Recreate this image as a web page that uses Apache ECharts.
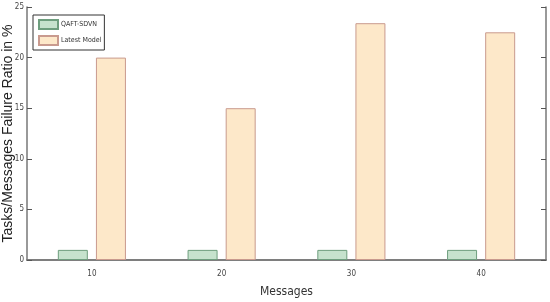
<!DOCTYPE html>
<html><head><meta charset="utf-8">
<script src="https://cdn.jsdelivr.net/npm/echarts@6/dist/echarts.min.js"></script>
<style>html,body{margin:0;padding:0;background:#fff}#c{width:550px;height:302px}</style>
</head><body><div id="c"></div>
<script>
var categories = ['10', '20', '30', '40'];
var qaftValues = [1, 1, 1, 1];
var latestValues = [20, 15, 23.4, 22.5];
var yTicks = [0, 5, 10, 15, 20, 25];
var seriesNames = ['QAFT-SDVN', 'Latest Model'];

var chart = echarts.init(document.getElementById('c'), null, {renderer: 'canvas'});
var axisCol = '#777';
var narrow = "'Liberation Sans Narrow', 'DejaVu Sans Condensed', 'Liberation Sans', sans-serif";
chart.setOption({
  animation: false,
  grid: {left: 27, right: 4, top: 7, bottom: 42, containLabel: false, outerBoundsMode: 'none'},
  legend: {
    left: 33, top: 15, orient: 'vertical', itemWidth: 19, itemHeight: 9, itemGap: 5, icon: 'rect',
    padding: [4, 3, 4, 5], borderColor: '#333', borderWidth: 1, backgroundColor: '#fff',
    textStyle: {fontFamily: narrow, fontSize: 7, color: '#333', padding: [0, 0, 0, -2]},
    data: seriesNames
  },
  xAxis: [{
    type: 'category', data: categories, position: 'bottom',
    name: 'Messages', nameLocation: 'middle', nameGap: 26, nameMoveOverlap: false,
    nameTextStyle: {fontFamily: narrow, fontSize: 12, color: '#333'},
    axisLine: {lineStyle: {color: axisCol, width: 1.5}},
    axisTick: {alignWithLabel: true, inside: true, length: 5, lineStyle: {color: '#555'}},
    axisLabel: {fontFamily: narrow, fontSize: 8, color: '#444', margin: 10}
  }, {
    type: 'category', data: categories, position: 'top',
    axisLine: {lineStyle: {color: axisCol, width: 1.5}},
    axisTick: {alignWithLabel: true, inside: true, length: 5, lineStyle: {color: '#555'}},
    axisLabel: {show: false}
  }],
  yAxis: [{
    type: 'value', min: 0, max: 25, interval: 5,
    name: 'Tasks/Messages Failure Ratio in %', nameLocation: 'middle', nameGap: 12, nameMoveOverlap: false,
    nameTextStyle: {fontFamily: 'Liberation Sans', fontSize: 14, color: '#222'},
    axisLine: {show: true, lineStyle: {color: axisCol, width: 1.5}},
    axisTick: {show: true, inside: true, length: 5, lineStyle: {color: '#555'}},
    axisLabel: {fontFamily: narrow, fontSize: 8, color: '#444', margin: 3,
      formatter: function (v) { return yTicks.indexOf(v) >= 0 ? String(v) : ''; }},
    splitLine: {show: false}
  }, {
    type: 'value', min: 0, max: 25, interval: 5, position: 'right',
    axisLine: {show: true, lineStyle: {color: axisCol, width: 1.5}},
    axisTick: {show: true, inside: true, length: 5, lineStyle: {color: '#555'}},
    axisLabel: {show: false}, splitLine: {show: false}
  }],
  series: [{
    name: seriesNames[0], type: 'bar', data: qaftValues, barWidth: 30, barGap: '27%',
    itemStyle: {color: '#c6e2cd', borderColor: '#6e9e7e', borderWidth: 1}
  }, {
    name: seriesNames[1], type: 'bar', data: latestValues, barWidth: 30,
    itemStyle: {color: '#fde8c9', borderColor: '#c99a8e', borderWidth: 1}
  }]
});
</script></body></html>
